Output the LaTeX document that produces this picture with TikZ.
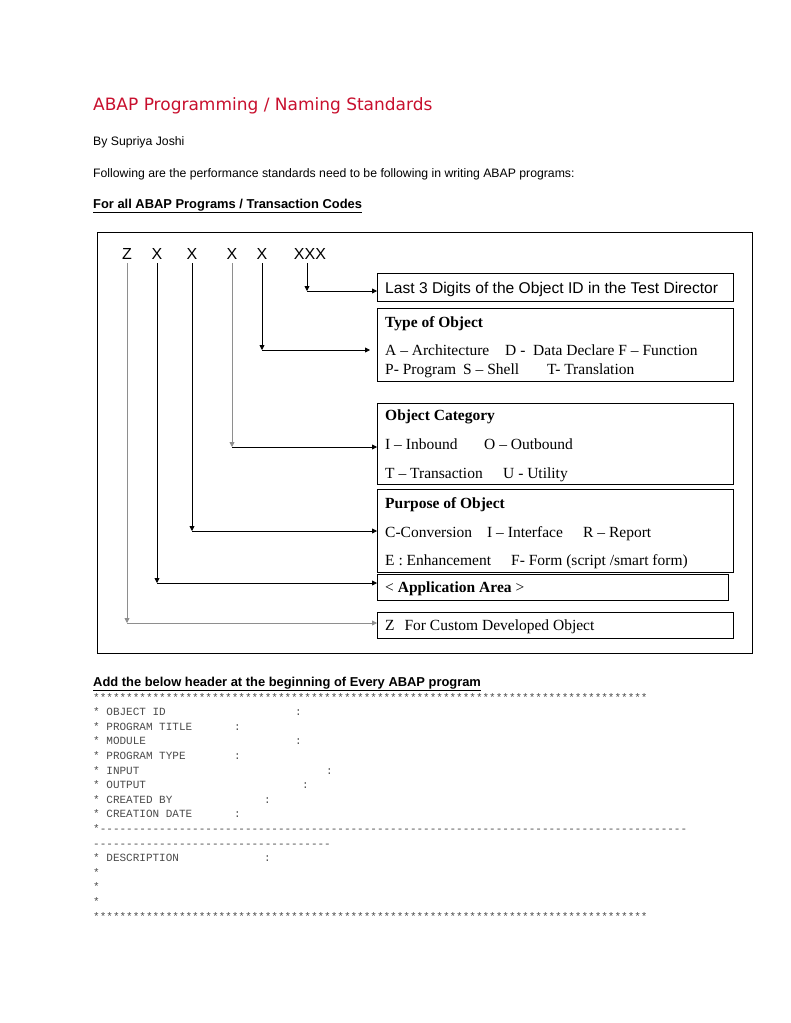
\documentclass[tikz,border=0pt]{standalone}
\usepackage{fontspec}
\setmainfont{Liberation Serif}
\setsansfont{Liberation Sans}
\setmonofont{Liberation Mono}
\newfontfamily\headfont{DejaVu Sans}
\usepackage{xcolor}
\usetikzlibrary{arrows.meta,positioning}
\definecolor{headred}{HTML}{C8102E}
\definecolor{codegray}{HTML}{4A4A4A}
\definecolor{linegray}{HTML}{8E8E8E}
\ExplSyntaxOn
\NewDocumentCommand\rowof{mm}{\prg_replicate:nn{#1}{#2}}
\ExplSyntaxOff

\begin{document}
\begin{tikzpicture}[
  x=1pt,y=-1pt,
  body/.style={font=\sffamily\fontsize{12.25}{12.25}\selectfont,anchor=base west,inner sep=0pt},
  sect/.style={font=\sffamily\bfseries\fontsize{12.9}{12.9}\selectfont,anchor=base west,inner sep=0pt},
  key/.style={font=\sffamily\fontsize{16}{16}\selectfont,anchor=base,inner sep=0pt},
  item/.style={draw,line width=0.8pt,anchor=north west,inner sep=0pt,minimum width=356pt},
  hd/.style={font=\bfseries\fontsize{15.5}{15.5}\selectfont,anchor=base west,inner sep=0pt},
  txt/.style={font=\fontsize{15.5}{15.5}\selectfont,anchor=base west,inner sep=0pt},
  code/.style={font=\ttfamily\fontsize{11}{11}\selectfont,text=codegray,anchor=base west,inner sep=0pt},
  ar/.style={-{Triangle[length=5pt,width=5pt]},line width=0.8pt},
  grey/.style={draw=linegray}
]
\useasboundingbox (0,0) rectangle (791,1023);

% page heading
\node[anchor=base west,inner sep=0pt,text=headred,font=\headfont\fontsize{17}{17}\selectfont] (title) at (93,110) {ABAP Programming / Naming Standards};
\node[body] (author) at (93,145) {By Supriya Joshi};
\node[body] (intro) at (93,177) {Following are the performance standards need to be following in writing ABAP programs:};
\node[sect] (sec1) at (93,208) {\underline{For all ABAP Programs / Transaction Codes}};

% naming scheme
\node[draw,line width=0.8pt,anchor=north west,inner sep=0pt,minimum width=655pt,minimum height=421pt] (frame) at (97,232) {};
\node[key] (kz)   at (127,259) {Z};
\node[key] (kx1)  at (157,259) {X};
\node[key] (kx2)  at (192,259) {X};
\node[key] (kx3)  at (232,259) {X};
\node[key] (kx4)  at (262,259) {X};
\node[key] (kxxx) at (310,259) {XXX};

\node[item,minimum height=28pt] (last) at (377,273) {};
\node[item,minimum height=73pt] (type) at (377,308) {};
\node[item,minimum height=81pt] (cat)  at (377,403) {};
\node[item,minimum height=83pt] (purp) at (377,489) {};
\node[item,minimum height=26pt,minimum width=351pt] (app) at (377,574) {};
\node[item,minimum height=26pt] (cust) at (377,612) {};

\node[anchor=base west,inner sep=0pt,font=\sffamily\fontsize{15.6}{15.6}\selectfont] (lasttxt) at (385,293) {Last 3 Digits of the Object ID in the Test Director};
\node[hd]  (typehd) at (385,327.5) {Type of Object};
\node[txt] (typea)  at (385,355.5) {\makebox[120pt][l]{A -- Architecture}\makebox[28pt][l]{D -}Data Declare F -- Function};
\node[txt] (typeb)  at (385,374.5) {\makebox[78pt][l]{P- Program}\makebox[84pt][l]{S -- Shell}T- Translation};
\node[hd]  (cathd)  at (385,420.5) {Object Category};
\node[txt] (cata)   at (385,449) {\makebox[99pt][l]{I -- Inbound}O -- Outbound};
\node[txt] (catb)   at (385,478) {\makebox[118pt][l]{T -- Transaction}U - Utility};
\node[hd]  (purphd) at (385,508.5) {Purpose of Object};
\node[txt] (purpa)  at (385,537) {\makebox[102pt][l]{C-Conversion}\makebox[96pt][l]{I -- Interface}R -- Report};
\node[txt] (purpb)  at (385,565) {\makebox[126pt][l]{E : Enhancement}F- Form (script /smart form)};
\node[txt] (apptxt) at (385,592) {< \textbf{Application Area} >};
\node[txt] (custtxt) at (385,630) {Z\hspace{6pt} For Custom Developed Object};

\coordinate (cxxx) at (307,291);
\coordinate (cx4)  at (262,350);
\coordinate (cx3)  at (232,447);
\coordinate (cx2)  at (192,531);
\coordinate (cx1)  at (157,583);
\coordinate (cz)   at (127,623);

\draw[ar] ([yshift=-4pt]kxxx.south -| cxxx) -- (cxxx);
\draw[ar] (cxxx) -- (last.west |- cxxx);
\draw[ar] ([yshift=-4pt]kx4.south) -- (cx4);
\draw[ar,shorten >=7pt] (cx4) -- (type.west |- cx4);
\draw[ar,grey] ([yshift=-4pt]kx3.south) -- (cx3);
\draw[ar] (cx3) -- (cat.west |- cx3);
\draw[ar] ([yshift=-4pt]kx2.south) -- (cx2);
\draw[ar] (cx2) -- (purp.west |- cx2);
\draw[ar] ([yshift=-4pt]kx1.south) -- (cx1);
\draw[ar] (cx1) -- (app.west |- cx1);
\draw[ar,grey] ([yshift=-4pt]kz.south) -- (cz);
\draw[ar,grey] (cz) -- (cust.west |- cz);

% program header
\node[sect] (sec2) at (93,686) {\underline{Add the below header at the beginning of Every ABAP program}};
\node[code] (h1)  at (93,701)   {\rowof{84}{*}};
\node[code] (h2)  at (93,715.6) {\makebox[202pt][l]{* OBJECT ID}:};
\node[code] (h3)  at (93,730.2) {\makebox[141pt][l]{* PROGRAM TITLE}:};
\node[code] (h4)  at (93,744.8) {\makebox[202pt][l]{* MODULE}:};
\node[code] (h5)  at (93,759.4) {\makebox[141pt][l]{* PROGRAM TYPE}:};
\node[code] (h6)  at (93,774)   {\makebox[233pt][l]{* INPUT}:};
\node[code] (h7)  at (93,788.6) {\makebox[209pt][l]{* OUTPUT}:};
\node[code] (h8)  at (93,803.2) {\makebox[171pt][l]{* CREATED BY}:};
\node[code] (h9)  at (93,817.8) {\makebox[141pt][l]{* CREATION DATE}:};
\node[code] (h10) at (93,832.4) {*\rowof{89}{-}};
\node[code] (h11) at (93,847)   {\rowof{36}{-}};
\node[code] (h12) at (93,861.6) {\makebox[171pt][l]{* DESCRIPTION}:};
\node[code] (h13) at (93,876.2) {*};
\node[code] (h14) at (93,890.8) {*};
\node[code] (h15) at (93,905.4) {*};
\node[code] (h16) at (93,920)   {\rowof{84}{*}};
\end{tikzpicture}
\end{document}
